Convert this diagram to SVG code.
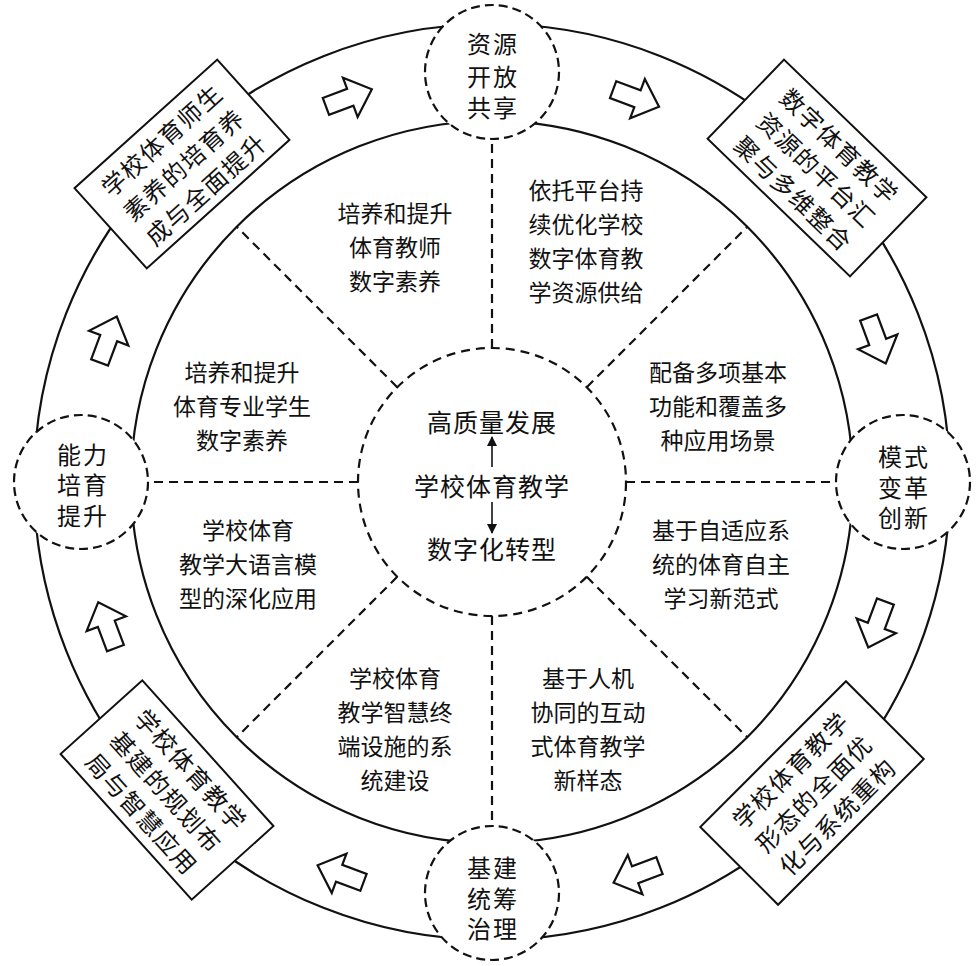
<svg xmlns="http://www.w3.org/2000/svg" width="978" height="966" viewBox="0 0 978 966">
<defs>
<style>
text{font-family:"Noto Sans CJK SC","Noto Sans CJK JP",sans-serif;fill:#111;text-anchor:middle}
.ring{fill:none;stroke:#111;stroke-width:2.2}
.dash{fill:none;stroke:#111;stroke-width:2.2;stroke-dasharray:9 6}
.hub{fill:#fff;stroke:#111;stroke-width:2.2;stroke-dasharray:9 5}
.box{fill:#fff;stroke:#111;stroke-width:2}
.arr{fill:#fff;stroke:#111;stroke-width:2.2;stroke-linejoin:miter}
.c{font-size:25px;letter-spacing:1px}
.h{font-size:24px;letter-spacing:2px}
.s{font-size:23px}
.b{font-size:24px;letter-spacing:1.5px}
</style>
<marker id="ah" viewBox="0 0 10 10" refX="9" refY="5" markerWidth="10" markerHeight="10" markerUnits="userSpaceOnUse" orient="auto">
<path d="M0,0 L10,5 L0,10 z" fill="#111"/>
</marker>
<polygon id="ba" points="-24,-9 2,-9 2,-21 25,0 2,21 2,9 -24,9"/>
</defs>
<rect width="978" height="966" fill="#fff"/>
<g id="rings">
<circle class="ring" cx="492" cy="482" r="458"/>
<circle class="ring" cx="492" cy="482" r="361"/>
</g>
<g id="connectors">
<line class="dash" x1="492" y1="348" x2="492" y2="121"/>
<line class="dash" x1="586.8" y1="387.2" x2="747.3" y2="226.7"/>
<line class="dash" x1="626" y1="482" x2="853" y2="482"/>
<line class="dash" x1="586.8" y1="576.8" x2="747.3" y2="737.3"/>
<line class="dash" x1="492" y1="616" x2="492" y2="843"/>
<line class="dash" x1="397.2" y1="576.8" x2="236.7" y2="737.3"/>
<line class="dash" x1="358" y1="482" x2="131" y2="482"/>
<line class="dash" x1="397.2" y1="387.2" x2="236.7" y2="226.7"/>
<line x1="492" y1="467" x2="492" y2="437" stroke="#111" stroke-width="1.6" marker-end="url(#ah)"/>
<line x1="492" y1="502" x2="492" y2="533" stroke="#111" stroke-width="1.6" marker-end="url(#ah)"/>
<use href="#ba" class="arr" transform="translate(348.4,98) rotate(-20.5)"/>
<use href="#ba" class="arr" transform="translate(635.6,98) rotate(20.5)"/>
<use href="#ba" class="arr" transform="translate(877,340) rotate(69.5)"/>
<use href="#ba" class="arr" transform="translate(877,624) rotate(110.5)"/>
<use href="#ba" class="arr" transform="translate(637,874) rotate(159.5)"/>
<use href="#ba" class="arr" transform="translate(341,874) rotate(200.5)"/>
<use href="#ba" class="arr" transform="translate(107,625.6) rotate(249.5)"/>
<use href="#ba" class="arr" transform="translate(108,340) rotate(290.5)"/>
</g>
<g id="center">
<circle class="dash" cx="492" cy="482" r="134"/>
<text class="c" x="492" y="432">高质量发展</text>
<text class="c" x="492" y="496">学校体育教学</text>
<text class="c" x="492" y="559">数字化转型</text>
</g>
<g id="node-top">
<circle class="hub" cx="492" cy="72" r="67"/>
<text class="h" x="493" y="53">资源</text>
<text class="h" x="493" y="85.5">开放</text>
<text class="h" x="493" y="117">共享</text>
</g>
<g id="node-right">
<circle class="hub" cx="903" cy="482" r="67"/>
<text class="h" x="904" y="465.5">模式</text>
<text class="h" x="904" y="496.5">变革</text>
<text class="h" x="904" y="527">创新</text>
</g>
<g id="node-bottom">
<circle class="hub" cx="492" cy="893" r="67"/>
<text class="h" x="493" y="877">基建</text>
<text class="h" x="493" y="907.5">统筹</text>
<text class="h" x="493" y="938">治理</text>
</g>
<g id="node-left">
<circle class="hub" cx="81" cy="482" r="67"/>
<text class="h" x="83" y="463.5">能力</text>
<text class="h" x="83" y="494">培育</text>
<text class="h" x="83" y="524.5">提升</text>
</g>
<g id="box-tl" transform="translate(182,164) rotate(-42)">
<rect class="box" x="-96" y="-54" width="192" height="108"/>
<text class="b" x="1" y="-22">学校体育师生</text>
<text class="b" x="1" y="11">素养的培育养</text>
<text class="b" x="1" y="44">成与全面提升</text>
</g>
<g id="box-tr" transform="translate(817,168) rotate(44)">
<rect class="box" x="-99" y="-55" width="198" height="110"/>
<text class="b" x="1" y="-22">数字体育教学</text>
<text class="b" x="1" y="11">资源的平台汇</text>
<text class="b" x="1" y="44">聚与多维整合</text>
</g>
<g id="box-bl" transform="translate(167,790) rotate(48)">
<rect class="box" x="-98" y="-55" width="196" height="110"/>
<text class="b" x="1" y="-22">学校体育教学</text>
<text class="b" x="1" y="11">基建的规划布</text>
<text class="b" x="1" y="44">局与智慧应用</text>
</g>
<g id="box-br" transform="translate(812,793) rotate(-45)">
<rect class="box" x="-103" y="-55" width="206" height="110"/>
<text class="b" x="1" y="-22">学校体育教学</text>
<text class="b" x="1" y="11">形态的全面优</text>
<text class="b" x="1" y="44">化与系统重构</text>
</g>
<g id="sector-1">
<text class="s" x="395" y="222">培养和提升</text>
<text class="s" x="395" y="256">体育教师</text>
<text class="s" x="395" y="290">数字素养</text>
</g>
<g id="sector-2">
<text class="s" x="586" y="199">依托平台持</text>
<text class="s" x="586" y="233">续优化学校</text>
<text class="s" x="586" y="267">数字体育教</text>
<text class="s" x="586" y="301">学资源供给</text>
</g>
<g id="sector-3">
<text class="s" x="718" y="381">配备多项基本</text>
<text class="s" x="718" y="415">功能和覆盖多</text>
<text class="s" x="718" y="449">种应用场景</text>
</g>
<g id="sector-4">
<text class="s" x="721" y="539">基于自适应系</text>
<text class="s" x="721" y="573">统的体育自主</text>
<text class="s" x="721" y="607">学习新范式</text>
</g>
<g id="sector-5">
<text class="s" x="588" y="687">基于人机</text>
<text class="s" x="588" y="721">协同的互动</text>
<text class="s" x="588" y="755">式体育教学</text>
<text class="s" x="588" y="789">新样态</text>
</g>
<g id="sector-6">
<text class="s" x="395" y="687">学校体育</text>
<text class="s" x="395" y="721">教学智慧终</text>
<text class="s" x="395" y="755">端设施的系</text>
<text class="s" x="395" y="789">统建设</text>
</g>
<g id="sector-7">
<text class="s" x="248" y="539">学校体育</text>
<text class="s" x="248" y="573">教学大语言模</text>
<text class="s" x="248" y="607">型的深化应用</text>
</g>
<g id="sector-8">
<text class="s" x="242" y="381">培养和提升</text>
<text class="s" x="242" y="415">体育专业学生</text>
<text class="s" x="242" y="449">数字素养</text>
</g>
</svg>
